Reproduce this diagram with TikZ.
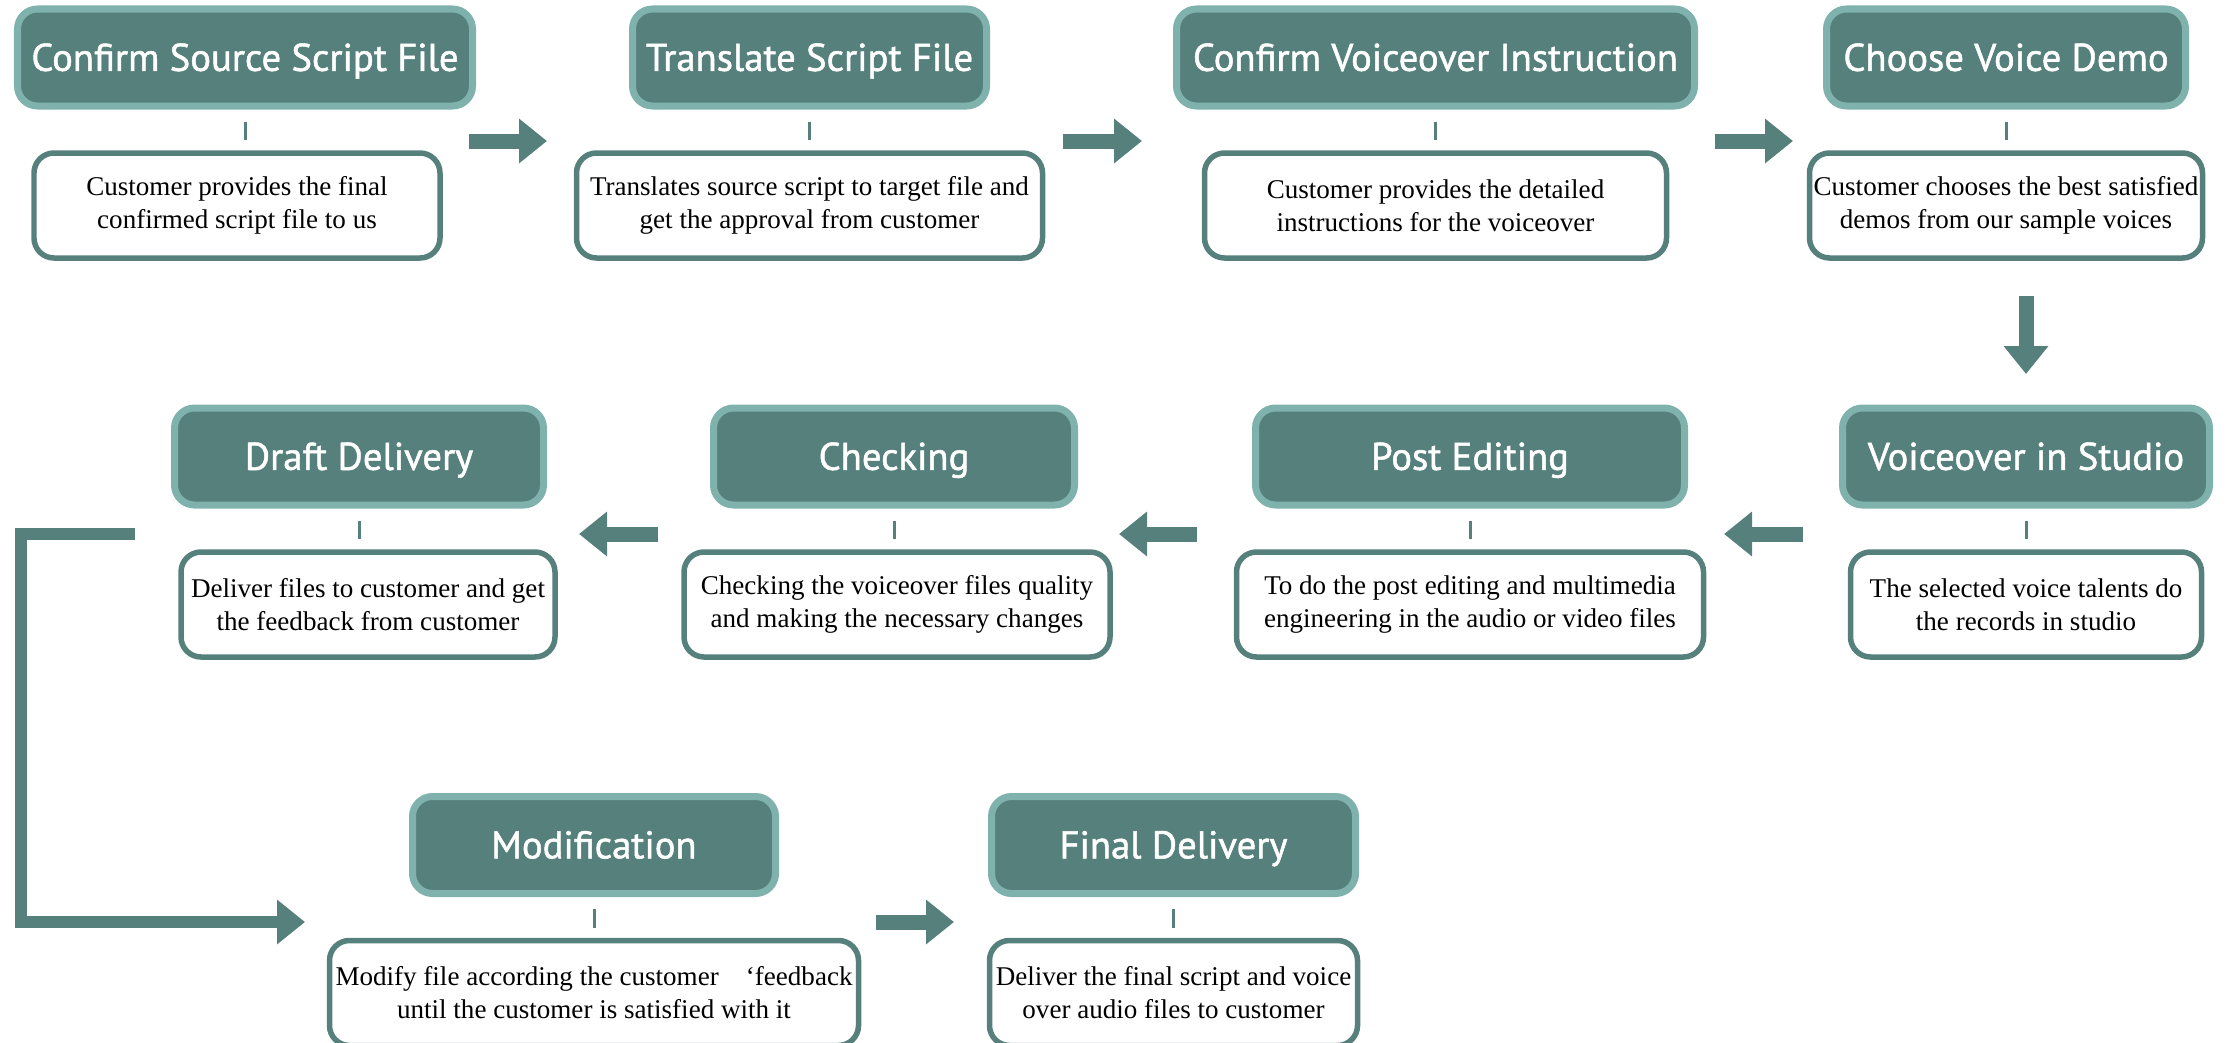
\documentclass[tikz,border=0pt]{standalone}
\usepackage{fontspec}
\setmainfont{Liberation Serif}
\newfontfamily\hdfont{PT Sans}[BoldFont={PT Sans}, BoldFeatures={FakeBold=1.3}]
\usetikzlibrary{arrows.meta,positioning}
\definecolor{tealdark}{RGB}{86,128,124}
\definecolor{teallight}{RGB}{127,178,172}

\begin{document}
\begin{tikzpicture}[node distance=1.48cm,>={Triangle[length=0.28cm,width=0.43cm]}]
  \tikzstyle{head}=[draw=teallight, fill=tealdark, line width=0.07cm, rounded corners=0.2cm,
                    minimum height=0.97cm, inner sep=0pt, text=white,
                    text height=7.6pt, text depth=0pt,
                    font=\hdfont\bfseries\fontsize{11}{13}\selectfont]
  \tikzstyle{desc}=[draw=tealdark, fill=white, line width=0.055cm, rounded corners=0.2cm,
                    minimum height=1.05cm, inner sep=0pt, align=center,
                    font=\fontsize{7.7}{9.4}\selectfont]
  \tikzstyle{tick}=[draw=tealdark, line width=0.03cm, shorten <=0.12cm, shorten >=0.10cm]
  \tikzstyle{blk}=[->, draw=tealdark, line width=0.15cm]
  \tikzstyle{elbow}=[->, draw=tealdark, line width=0.12cm, line join=miter]

  \useasboundingbox (0,0) rectangle (22.26,-10.42);

  % first row
  \node[head, minimum width=4.55cm] (H1) at (2.45,-0.575)   {Confirm Source Script File};
  \node[head, minimum width=3.54cm] (H2) at (8.095,-0.575)  {Translate Script File};
  \node[head, minimum width=5.18cm] (H3) at (14.355,-0.575) {Confirm Voiceover Instruction};
  \node[head, minimum width=3.59cm] (H4) at (20.06,-0.575)  {Choose Voice Demo};

  \node[desc, minimum width=4.06cm] (D1) [below of=H1, xshift=-0.08cm]
       {Customer provides the final\\confirmed script file to us};
  \node[desc, minimum width=4.66cm] (D2) [below of=H2]
       {Translates source script to target file and\\get the approval from customer};
  \node[desc, minimum width=4.62cm] (D3) [below of=H3]
       {Customer provides the detailed\\instructions for the voiceover};
  \node[desc, minimum width=3.93cm] (D4) [below of=H4]
       {Customer chooses the best satisfied\\demos from our sample voices};

  % second row
  \node[head, minimum width=3.67cm] (H5) at (20.26,-4.565) {Voiceover in Studio};
  \node[head, minimum width=4.29cm] (H6) at (14.70,-4.565) {Post Editing};
  \node[head, minimum width=3.61cm] (H7) at (8.94,-4.565)  {Checking};
  \node[head, minimum width=3.69cm] (H8) at (3.59,-4.565)  {Draft Delivery};

  \node[desc, minimum width=3.51cm] (D5) [below of=H5]
       {The selected voice talents do\\the records in studio};
  \node[desc, minimum width=4.67cm] (D6) [below of=H6]
       {To do the post editing and multimedia\\engineering in the audio or video files};
  \node[desc, minimum width=4.26cm] (D7) [below of=H7, xshift=0.03cm]
       {Checking the voiceover files quality\\and making the necessary changes};
  \node[desc, minimum width=3.74cm] (D8) [below of=H8, xshift=0.09cm]
       {Deliver files to customer and get\\the feedback from customer};

  % third row
  \node[head, minimum width=3.63cm] (H9)  at (5.94,-8.45)   {Modification};
  \node[head, minimum width=3.64cm] (H10) at (11.735,-8.45) {Final Delivery};

  \node[desc, minimum width=5.29cm] (D9) [below of=H9]
       {Modify file according the customer\hspace{1em}‘feedback\\until the customer is satisfied with it};
  \node[desc, minimum width=3.68cm] (D10) [below of=H10]
       {Deliver the final script and voice\\over audio files to customer};

  % ticks
  \foreach \n in {1,...,10}
    \draw[tick] (H\n) -- (H\n |- D\n.north);

  % arrow ends
  \coordinate (a1s) at (4.69,-1.41);   \coordinate (a1e) at (5.47,-1.41);
  \coordinate (a2s) at (10.63,-1.41);  \coordinate (a2e) at (11.42,-1.41);
  \coordinate (a3s) at (17.15,-1.41);  \coordinate (a3e) at (17.93,-1.41);
  \coordinate (a4s) at (20.26,-2.96);  \coordinate (a4e) at (20.26,-3.74);
  \coordinate (a5s) at (18.03,-5.34);  \coordinate (a5e) at (17.24,-5.34);
  \coordinate (a6s) at (11.97,-5.34);  \coordinate (a6e) at (11.19,-5.34);
  \coordinate (a7s) at (6.58,-5.34);   \coordinate (a7e) at (5.79,-5.34);
  \coordinate (a8s) at (1.35,-5.34);   \coordinate (a8c) at (0.21,-9.22);
  \coordinate (a8e) at (3.05,-9.22);
  \coordinate (a9s) at (8.76,-9.22);   \coordinate (a9e) at (9.54,-9.22);

  \draw[blk] (a1s) -- (a1e);
  \draw[blk] (a2s) -- (a2e);
  \draw[blk] (a3s) -- (a3e);
  \draw[blk] (a4s) -- (a4e);
  \draw[blk] (a5s) -- (a5e);
  \draw[blk] (a6s) -- (a6e);
  \draw[blk] (a7s) -- (a7e);
  \draw[elbow] (a8s) -| (a8c) -- (a8e);
  \draw[blk] (a9s) -- (a9e);
\end{tikzpicture}
\end{document}
